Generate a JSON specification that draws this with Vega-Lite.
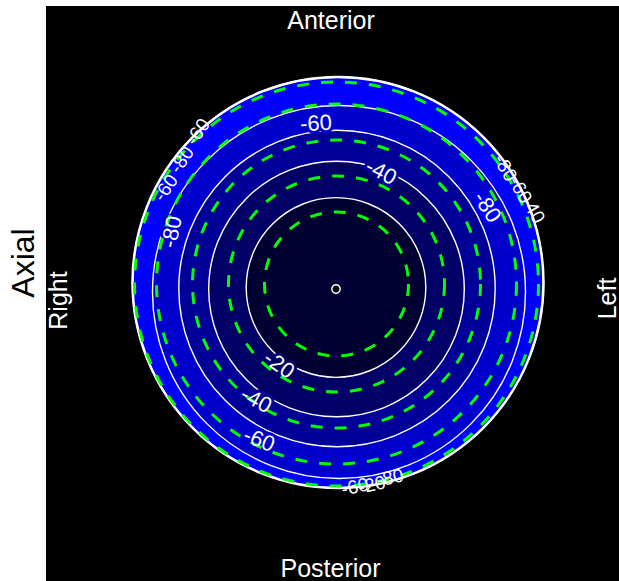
{
  "$schema": "https://vega.github.io/schema/vega-lite/v6.json",
  "width": 573,
  "height": 575,
  "autosize": {"type": "none"},
  "padding": {"left": 46, "top": 6, "right": 0, "bottom": 0},
  "background": "white",
  "config": {
    "view": {"fill": "black", "stroke": null},
    "text": {"font": "Liberation Sans"},
    "axis": {"titleFont": "Liberation Sans"}
  },
  "datasets": {
    "disks": [
      {"band": "-100 to -80", "x": 2.75, "y": 5.5, "r": 102.75},
      {"band": "-80 to -60", "x": 3.25, "y": 0.75, "r": 93.25},
      {"band": "-60 to -40", "x": 2.25, "y": 2.5, "r": 79.1},
      {"band": "-40 to -20", "x": 2, "y": 2.25, "r": 63.9},
      {"band": "-20 to 0", "x": 1.75, "y": 3, "r": 44.9},
      {"band": "0 and above", "x": 1.75, "y": 2.25, "r": 2.1}
    ],
    "guides": [
      {"x": 2, "y": 4.75, "r": 36},
      {"x": 2, "y": 4.75, "r": 54},
      {"x": 2, "y": 4.75, "r": 72},
      {"x": 2, "y": 4.75, "r": 90},
      {"x": 2, "y": 4.75, "r": 101}
    ],
    "labels": [
      {"label": "-60", "x": -8.25, "y": 85, "tangent": -3, "band": "-80 to -60"},
      {"label": "-40", "x": 24.25, "y": 60.75, "tangent": 27, "band": "-60 to -40"},
      {"label": "-80", "x": 77.25, "y": 43.25, "tangent": 57, "band": "-100 to -80"},
      {"label": "-80", "x": -80.25, "y": 30.75, "tangent": -78, "band": "-80 to -60"},
      {"label": "-20", "x": -26.75, "y": -35.75, "tangent": 35, "band": "-40 to -20"},
      {"label": "-40", "x": -38.25, "y": -53.25, "tangent": 28, "band": "-60 to -40"},
      {"label": "-60", "x": -36.75, "y": -73.25, "tangent": 22, "band": "-80 to -60"}
    ],
    "edgeLabels": [
      {"label": "-60", "x": -83.25, "y": 52.75, "tangent": -55},
      {"label": "-80", "x": -75.25, "y": 66.75, "tangent": -55},
      {"label": "-60", "x": -67.25, "y": 80.75, "tangent": -55},
      {"label": "-80", "x": 86.25, "y": 62.75, "tangent": 60},
      {"label": "-60", "x": 93.75, "y": 51.75, "tangent": 60},
      {"label": "-40", "x": 100.25, "y": 41.75, "tangent": 60},
      {"label": "-60", "x": 11.25, "y": -96.75, "tangent": -12},
      {"label": "-20", "x": 19.75, "y": -95.75, "tangent": -12},
      {"label": "-80", "x": 28.75, "y": -92.25, "tangent": -12}
    ],
    "dirH": [
      {"label": "Anterior", "x": -0.75, "y": 132.25},
      {"label": "Posterior", "x": -1, "y": -141.75}
    ],
    "dirV": [
      {"label": "Right", "x": -132.75, "y": -3.5},
      {"label": "Left", "x": 141.5, "y": -2.5}
    ]
  },
  "encoding": {
    "x": {"field": "x", "type": "quantitative", "scale": {"domain": [-143.25, 143.25], "nice": false, "zero": false}, "axis": null},
    "y": {
      "field": "y", "type": "quantitative",
      "scale": {"domain": [-143.75, 143.75], "nice": false, "zero": false},
      "axis": {
        "title": "Axial", "labels": false, "ticks": false, "domain": false, "grid": false,
        "titleFontSize": 32, "titleFontWeight": "normal", "titleColor": "black",
        "titleAngle": 270, "titleBaseline": "alphabetic", "titleAlign": "center",
        "titleX": -13, "titleY": 256.5
      }
    }
  },
  "layer": [
    {
      "data": {"name": "disks"},
      "mark": {"type": "point", "shape": "circle", "filled": true, "opacity": 1, "strokeWidth": 0},
      "encoding": {
        "size": {"field": "r", "type": "quantitative", "scale": {"type": "pow", "exponent": 2, "domain": [0, 150], "range": [0, 360000]}, "legend": null},
        "fill": {"field": "band", "type": "nominal", "scale": {"domain": ["-100 to -80", "-80 to -60", "-60 to -40", "-40 to -20", "-20 to 0", "0 and above"], "range": ["#0000ff", "#0000cc", "#000099", "#000066", "#000033", "#000000"]}, "legend": null},
        "order": {"field": "r", "type": "quantitative", "sort": "descending"}
      }
    },
    {
      "data": {"name": "disks"},
      "mark": {"type": "point", "shape": "circle", "filled": false, "opacity": 1, "stroke": "white", "strokeWidth": 1.4},
      "encoding": {
        "size": {"field": "r", "type": "quantitative", "scale": {"type": "pow", "exponent": 2, "domain": [0, 150], "range": [0, 360000]}, "legend": null}
      }
    },
    {
      "data": {"name": "disks"},
      "transform": [{"filter": "datum.band === '-100 to -80'"}],
      "mark": {"type": "point", "shape": "circle", "filled": false, "opacity": 1, "stroke": "white", "strokeWidth": 2.5},
      "encoding": {
        "size": {"field": "r", "type": "quantitative", "scale": {"type": "pow", "exponent": 2, "domain": [0, 150], "range": [0, 360000]}, "legend": null}
      }
    },
    {
      "data": {"name": "labels"},
      "mark": {"type": "text", "fontSize": 22, "strokeWidth": 6, "align": "center", "baseline": "middle", "opacity": 1},
      "encoding": {
        "text": {"field": "label", "type": "nominal"},
        "angle": {"field": "tangent", "type": "quantitative", "scale": null},
        "fill": {"field": "band", "type": "nominal", "scale": {"domain": ["-100 to -80", "-80 to -60", "-60 to -40", "-40 to -20", "-20 to 0", "0 and above"], "range": ["#0000ff", "#0000cc", "#000099", "#000066", "#000033", "#000000"]}, "legend": null},
        "stroke": {"field": "band", "type": "nominal", "scale": {"domain": ["-100 to -80", "-80 to -60", "-60 to -40", "-40 to -20", "-20 to 0", "0 and above"], "range": ["#0000ff", "#0000cc", "#000099", "#000066", "#000033", "#000000"]}, "legend": null}
      }
    },
    {
      "data": {"name": "guides"},
      "mark": {"type": "point", "shape": "circle", "filled": false, "opacity": 1, "stroke": "#00ff00", "strokeWidth": 3, "strokeDash": [12, 12]},
      "encoding": {
        "size": {"field": "r", "type": "quantitative", "scale": {"type": "pow", "exponent": 2, "domain": [0, 150], "range": [0, 360000]}, "legend": null}
      }
    },
    {
      "data": {"name": "labels"},
      "mark": {"type": "text", "fontSize": 22, "fill": "white", "align": "center", "baseline": "middle", "opacity": 1},
      "encoding": {
        "text": {"field": "label", "type": "nominal"},
        "angle": {"field": "tangent", "type": "quantitative", "scale": null}
      }
    },
    {
      "data": {"name": "edgeLabels"},
      "mark": {"type": "text", "fontSize": 19, "fill": "white", "align": "center", "baseline": "middle", "opacity": 1},
      "encoding": {
        "text": {"field": "label", "type": "nominal"},
        "angle": {"field": "tangent", "type": "quantitative", "scale": null}
      }
    },
    {
      "data": {"name": "dirH"},
      "mark": {"type": "text", "fontSize": 25, "fill": "white", "align": "center", "baseline": "alphabetic", "opacity": 1},
      "encoding": {"text": {"field": "label", "type": "nominal"}}
    },
    {
      "data": {"name": "dirV"},
      "mark": {"type": "text", "fontSize": 25, "fill": "white", "align": "center", "baseline": "alphabetic", "angle": 270, "opacity": 1},
      "encoding": {"text": {"field": "label", "type": "nominal"}}
    }
  ]
}
